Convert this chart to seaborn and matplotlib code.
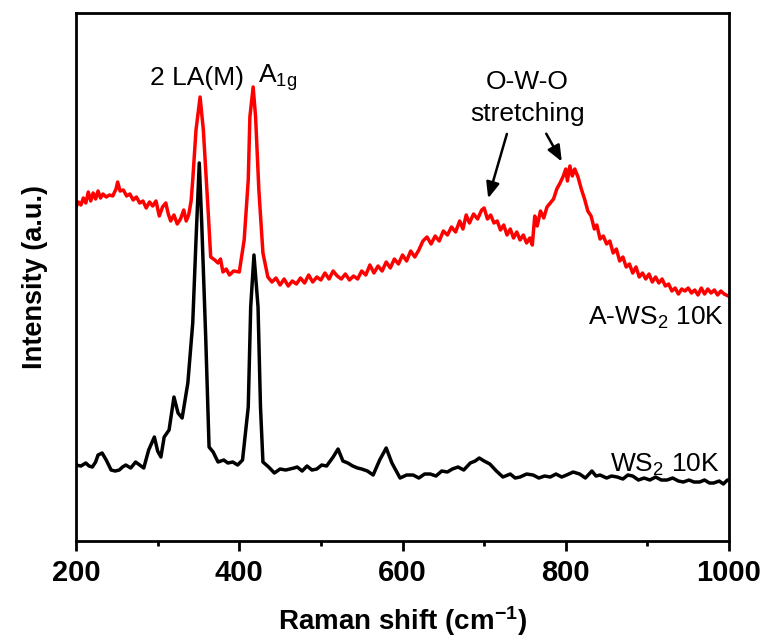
import matplotlib
matplotlib.use("Agg")
import matplotlib.pyplot as plt
import seaborn as sns
import pandas as pd
from matplotlib.ticker import MultipleLocator

# ---- data (Raman shift in cm^-1, intensity in arbitrary units) ----
ws2_shift = [200, 206, 212, 216, 220, 224, 227, 232, 237, 243, 248, 253, 257, 261, 267, 273, 278, 283,
             289, 296, 300, 304, 308, 314, 320, 325, 330, 337, 343, 347, 351, 354, 359, 363, 368, 374,
             381, 386, 392, 398, 404, 411, 414, 418, 423, 426, 429, 436, 443, 450, 457, 467, 471, 477,
             483, 489, 495, 501, 507, 515, 521, 527, 533, 539, 545, 550, 557, 564, 572, 580, 587, 597,
             605, 613, 620, 627, 634, 641, 648, 655, 661, 668, 675, 683, 689, 694, 700, 707, 715, 723,
             732, 738, 744, 752, 760, 767, 774, 781, 788, 795, 801, 809, 817, 824, 832, 837, 842, 850,
             856, 863, 870, 876, 882, 889, 896, 903, 910, 917, 924, 931, 938, 944, 951, 957, 964, 970,
             976, 981, 988, 993, 998]
ws2_int = [76, 75, 78, 75, 74, 79, 86, 88, 81, 71, 70, 71, 74, 76, 73, 79, 76, 73,
           91, 104, 90, 84, 104, 111, 144, 128, 123, 158, 218, 301, 378, 318, 201, 94, 89, 79,
           81, 78, 79, 76, 81, 134, 234, 286, 234, 134, 79, 74, 68, 72, 71, 73, 74, 70,
           75, 71, 72, 76, 75, 84, 92, 80, 78, 75, 73, 72, 70, 66, 81, 93, 78, 63,
           66, 66, 63, 67, 67, 65, 70, 69, 72, 74, 71, 78, 80, 83, 80, 77, 70, 64,
           67, 63, 64, 67, 66, 63, 65, 64, 67, 64, 66, 69, 67, 63, 70, 65, 66, 63,
           65, 64, 62, 66, 65, 61, 63, 61, 64, 61, 61, 63, 60, 59, 61, 59, 59, 61,
           58, 58, 60, 57, 61]

aws2_shift = [200, 203, 206, 209, 212, 215, 218, 221, 224, 227, 230, 233, 237, 241, 245, 249, 251, 254,
              258, 262, 266, 270, 274, 278, 282, 286, 290, 294, 298, 302, 306, 310, 313, 316, 320, 324,
              328, 332, 335, 338, 341, 343, 347, 352, 356, 362, 365, 370, 374, 377, 380, 384, 388, 393,
              400, 406, 411, 413, 417, 420, 424, 429,
              435, 440, 445, 450, 455, 460, 465, 470, 475, 480, 485, 490, 495, 500, 505, 510, 515, 520,
              525, 530, 535, 540, 545, 550, 555, 560, 565, 570, 575, 580, 585, 590, 595, 600, 605, 610,
              615, 620, 625, 630, 635, 640, 645, 650, 655, 660, 665, 670, 674, 678, 682, 687, 692, 697,
              700, 704, 708, 712, 716, 720, 724, 728, 732, 736, 740, 744, 748, 752, 756, 759, 762, 765,
              769, 773, 777, 781, 785, 789, 793, 797, 800, 802, 805, 808, 811, 815, 819, 823, 827, 831,
              835, 838, 842, 846, 850, 854, 858, 862, 866, 870, 874, 878, 882, 886, 890, 894, 898, 902,
              906, 910, 914, 918, 922, 926, 930, 934, 938, 942, 946, 950, 954, 958, 962, 966, 970, 974,
              978, 982, 986, 990, 994, 999]
aws2_int = [334, 339, 336, 343, 338, 349, 340, 348, 342, 350, 343, 347, 344, 346, 345, 352, 359, 350,
            351, 345, 347, 341, 344, 338, 340, 333, 339, 335, 340, 325, 334, 338, 327, 320, 326, 317,
            322, 331, 320, 326, 340, 361, 411, 444, 411, 328, 284, 281, 278, 282, 269, 272, 266, 270,
            269, 301, 361, 424, 454, 424, 351, 288,
            264, 259, 263, 256, 262, 255, 260, 257, 263, 258, 266, 259, 264, 261, 268, 262, 270, 265,
            262, 267, 261, 265, 262, 270, 266, 276, 268, 275, 270, 279, 273, 282, 277, 286, 280, 290,
            284, 291, 300, 304, 297, 305, 300, 310, 306, 314, 309, 320, 312, 326, 318, 327, 322, 331,
            333, 322, 326, 318, 320, 311, 316, 306, 312, 303, 309, 301, 306, 298, 303, 296, 325, 315,
            330, 323, 334, 338, 342, 352, 358, 365, 372, 360, 375, 365, 372, 364, 352, 342, 330, 325,
            312, 316, 302, 305, 297, 300, 288, 292, 280, 284, 274, 277, 268, 274, 264, 268, 262, 267,
            259, 264, 258, 262, 255, 257, 250, 253, 247, 252, 250, 253, 248, 251, 246, 253, 247, 252,
            248, 251, 246, 250, 247, 245]

series_names = ["WS$_2$ 10K", "A-WS$_2$ 10K"]
series_colors = ["#000000", "#FF0000"]
x_ticks = [200, 400, 600, 800, 1000]

df = pd.concat([
    pd.DataFrame({"shift": ws2_shift, "intensity": ws2_int, "sample": series_names[0]}),
    pd.DataFrame({"shift": aws2_shift, "intensity": aws2_int, "sample": series_names[1]}),
], ignore_index=True)

sns.set_theme(style="ticks")
plt.rcParams["font.family"] = ["Liberation Sans", "DejaVu Sans"]
plt.rcParams["text.color"] = "black"
plt.rcParams["axes.labelcolor"] = "black"
plt.rcParams["xtick.color"] = "black"
plt.rcParams["ytick.color"] = "black"
plt.rcParams["mathtext.default"] = "regular"

fig = plt.figure(figsize=(7.67, 6.43), dpi=100)
ax = fig.add_axes([0.0991, 0.1586, 0.8514, 0.8212])

sns.lineplot(data=df, x="shift", y="intensity", hue="sample",
             palette=dict(zip(series_names, series_colors)),
             linewidth=2.5, legend=False, ax=ax, sort=False, estimator=None)

ax.set_xlim(200, 1000)
ax.set_ylim(0, 528)
ax.set_xticks(x_ticks)
ax.xaxis.set_minor_locator(MultipleLocator(100))
ax.set_yticks([])
for sp in ax.spines.values():
    sp.set_linewidth(2.0)
    sp.set_color("black")
ax.tick_params(axis="x", which="major", length=7, width=2.0, direction="out", pad=6)
ax.tick_params(axis="x", which="minor", length=3.5, width=2.0, direction="out")

ax.set_xticklabels([str(t) for t in x_ticks], fontsize=21, fontweight="bold")
ax.set_xlabel("Raman shift (cm$^{-1}$)", fontsize=20, fontweight="bold", labelpad=12)
ax.set_ylabel("Intensity (a.u.)", fontsize=19.5, fontweight="bold", labelpad=20)

# annotations
fs = 19
ax.text(0.185, 0.877, "2 LA(M)", transform=ax.transAxes, fontsize=fs, ha="center", va="center")
ax.text(0.279, 0.877, "A$_{1g}$", transform=ax.transAxes, fontsize=fs, ha="left", va="center")
ax.text(0.691, 0.869, "O-W-O", transform=ax.transAxes, fontsize=fs, ha="center", va="center")
ax.text(0.691, 0.809, "stretching", transform=ax.transAxes, fontsize=fs, ha="center", va="center")
ax.annotate("", xy=(0.630, 0.644), xytext=(0.661, 0.776), xycoords="axes fraction",
            arrowprops=dict(arrowstyle="-|>,head_length=0.6,head_width=0.25", color="black", lw=1.8,
                            mutation_scale=16))
ax.annotate("", xy=(0.746, 0.714), xytext=(0.718, 0.776), xycoords="axes fraction",
            arrowprops=dict(arrowstyle="-|>,head_length=0.6,head_width=0.25", color="black", lw=1.8,
                            mutation_scale=16))
ax.text(0.993, 0.422, "A-WS$_2$ 10K", transform=ax.transAxes, fontsize=fs, ha="right", va="center")
ax.text(0.986, 0.145, "WS$_2$ 10K", transform=ax.transAxes, fontsize=fs, ha="right", va="center")

fig.savefig("out.png", dpi=100)
